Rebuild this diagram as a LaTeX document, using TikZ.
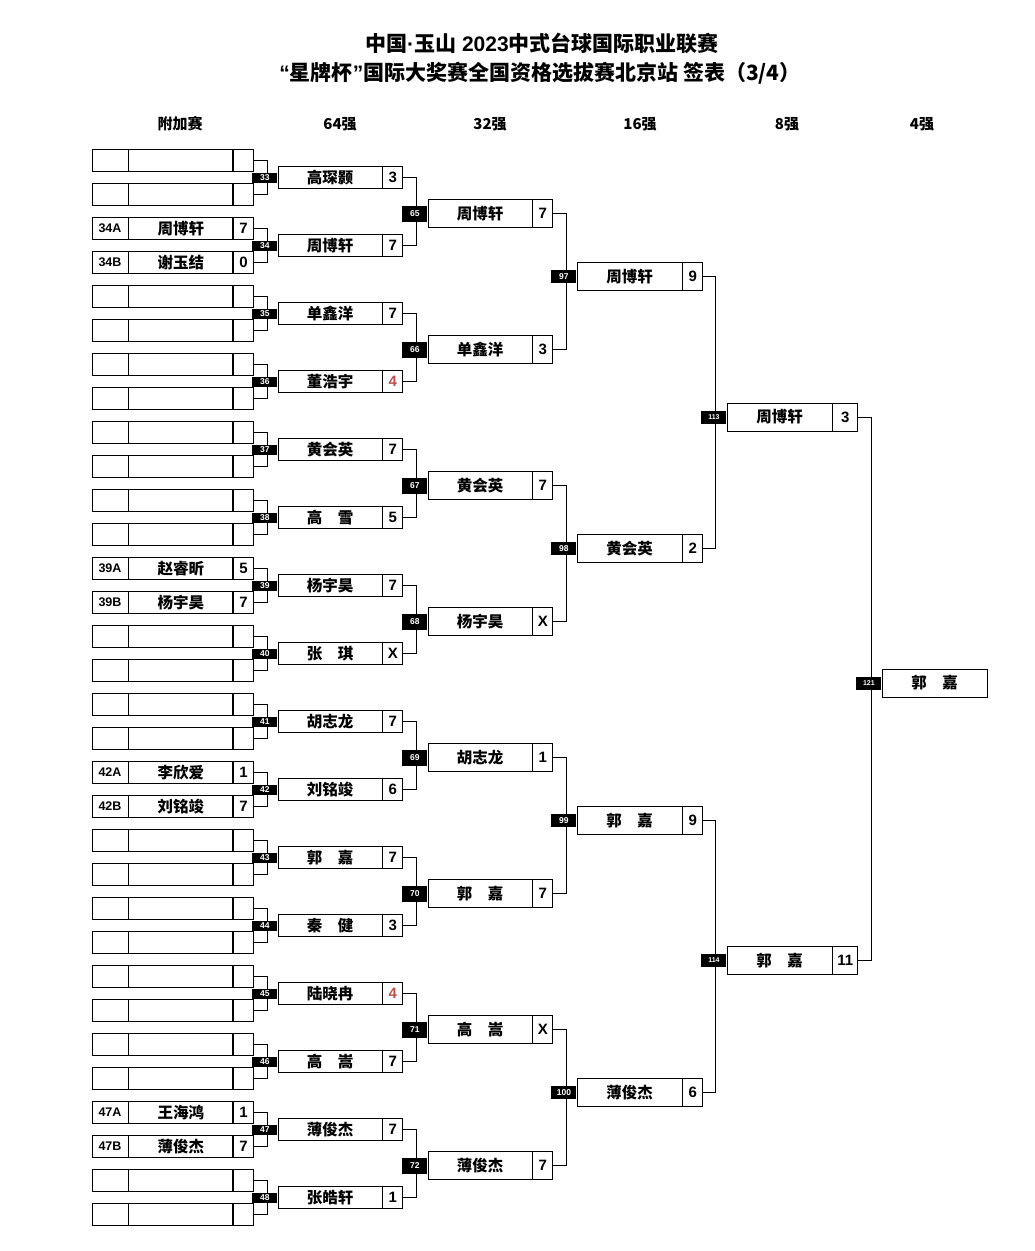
\documentclass[tikz,border=0pt]{standalone}
\usepackage{fontspec}
\setmainfont{Liberation Sans}
\newfontfamily\cjk{Noto Sans CJK SC}
\usepackage{tikz}
\usetikzlibrary{positioning}
\definecolor{lost}{HTML}{C0504D}
\tikzset{
    cell/.style={draw=black, line width=0.8pt, fill=white, inner sep=0pt,
                 minimum height=22pt, font=\bfseries\fontsize{15}{15}\selectfont},
    nm/.style={cell, minimum width=104pt, font=\cjk\bfseries\fontsize{15.5}{16}\selectfont},
    sc/.style={cell, minimum width=20pt},
    cd/.style={cell, minimum width=36pt, font=\bfseries\fontsize{12.5}{13}\selectfont},
    tag/.style={fill=black, text=white, inner sep=0pt, minimum width=25pt,
                minimum height=13pt, font=\bfseries\fontsize{8.5}{9}\selectfont},
    link/.style={line width=0.8pt},
    hdr/.style={font=\cjk\bfseries\fontsize{15}{15}\selectfont},
    ttl/.style={font=\bfseries\fontsize{21}{21}\selectfont},
}

\begin{document}
\begin{tikzpicture}[x=1pt, y=-1pt]
    \useasboundingbox (0,0) rectangle (1035,1251);
    % title and round headers
    \node[ttl] (title1) at (542,43) {{\cjk 中国}·{\cjk 玉山} 2023{\cjk 中式台球国际职业联赛}};
    \node[ttl] (title2) at (540,73) {“{\cjk 星牌杯}”{\cjk 国际大奖赛全国资格选拔赛北京站\ 签表（3/4）}};
    \foreach \x/\t in {180/附加赛, 340/64强, 490/32强, 640/16强, 787/8强, 922/4强}
        \node[hdr] (h\x) at (\x,124) {\t};

    % qualifying rows
    \foreach \k/\c/\n/\s [evaluate=\k as \yy using 160.5+34*(\k-1)] in
        {1///, 2///, 3/34A/周博轩/7, 4/34B/谢玉结/0, 5///, 6///, 7///, 8///,
         9///, 10///, 11///, 12///, 13/39A/赵睿昕/5, 14/39B/杨宇昊/7, 15///, 16///,
         17///, 18///, 19/42A/李欣爱/1, 20/42B/刘铭竣/7, 21///, 22///, 23///, 24///,
         25///, 26///, 27///, 28///, 29/47A/王海鸿/1, 30/47B/薄俊杰/7, 31///, 32///}
    {
        \node[cd] (pc\k) at (110,\yy) {\c};
        \node[nm, right=0pt of pc\k] (pn\k) {\n};
        \node[sc, right=0pt of pn\k] (ps\k) {\s};
    }

    % round of 64
    \foreach \j/\n/\s [evaluate=\j as \yy using 177.5+68*(\j-1)] in
        {1/高琛颢/3, 2/周博轩/7, 3/单鑫洋/7, 4/董浩宇/{\color{lost}4},
         5/黄会英/7, 6/高\quad 雪/5, 7/杨宇昊/7, 8/张\quad 琪/X,
         9/胡志龙/7, 10/刘铭竣/6, 11/郭\quad 嘉/7, 12/秦\quad 健/3,
         13/陆晓冉/{\color{lost}4}, 14/高\quad 嵩/7, 15/薄俊杰/7, 16/张皓轩/1}
    {
        \node[nm] (an\j) at (330,\yy) {\n};
        \node[sc, right=0pt of an\j] (as\j) {\s};
    }

    % round of 32
    \foreach \j/\n/\s [evaluate=\j as \yy using 213.5+136*(\j-1)] in
        {1/周博轩/7, 2/单鑫洋/3, 3/黄会英/7, 4/杨宇昊/X,
         5/胡志龙/1, 6/郭\quad 嘉/7, 7/高\quad 嵩/X, 8/薄俊杰/7}
    {
        \node[nm, minimum height=28pt] (bn\j) at (480,\yy) {\n};
        \node[sc, minimum height=28pt, right=0pt of bn\j] (bs\j) {\s};
    }

    % round of 16
    \foreach \j/\n/\s [evaluate=\j as \yy using 276.5+272*(\j-1)] in
        {1/周博轩/9, 2/黄会英/2, 3/郭\quad 嘉/9, 4/薄俊杰/6}
    {
        \node[nm, minimum width=105pt, minimum height=28pt] (cn\j) at (629.5,\yy) {\n};
        \node[sc, minimum height=28pt, right=0pt of cn\j] (cs\j) {\s};
    }

    % quarter finals and last four
    \node[nm, minimum width=105pt, minimum height=28pt] (dn1) at (779.5,417) {周博轩};
    \node[sc, minimum width=25pt, minimum height=28pt, right=0pt of dn1] (ds1) {3};
    \node[nm, minimum width=105pt, minimum height=28pt] (dn2) at (779.5,960.5) {郭\quad 嘉};
    \node[sc, minimum width=25pt, minimum height=28pt, right=0pt of dn2] (ds2) {11};
    \node[nm, minimum width=105pt, minimum height=28pt] (fn) at (934.5,683) {郭\quad 嘉};

    % bracket lines
    \foreach \j [evaluate=\j as \a using int(2*\j-1), evaluate=\j as \b using int(2*\j)] in {1,...,16}
        \draw[link] (ps\a.east) -- ++(13,0) |- (ps\b.east);
    \foreach \j [evaluate=\j as \a using int(2*\j-1), evaluate=\j as \b using int(2*\j)] in {1,...,8}
        \draw[link] (as\a.east) -- ++(13,0) |- (as\b.east);
    \foreach \j [evaluate=\j as \a using int(2*\j-1), evaluate=\j as \b using int(2*\j)] in {1,...,4}
        \draw[link] (bs\a.east) -- ++(13,0) |- (bs\b.east);
    \draw[link] (cs1.east) -- ++(12,0) |- (cs2.east);
    \draw[link] (cs3.east) -- ++(12,0) |- (cs4.east);
    \draw[link] (ds1.east) -- ++(13,0) |- (ds2.east);

    % match numbers
    \foreach \j [evaluate=\j as \m using int(\j+32)] in {1,...,16}
        \node[tag, minimum height=10pt, left=0pt of an\j] (at\j) {\m};
    \foreach \j [evaluate=\j as \m using int(\j+64)] in {1,...,8}
        \node[tag, minimum height=16pt, left=0pt of bn\j] (bt\j) {\m};
    \foreach \j [evaluate=\j as \m using int(\j+96)] in {1,...,4}
        \node[tag, left=0pt of cn\j] (ct\j) {\m};
    \node[tag, font=\bfseries\fontsize{7}{7}\selectfont, left=0pt of dn1] (dt1) {113};
    \node[tag, font=\bfseries\fontsize{7}{7}\selectfont, left=0pt of dn2] (dt2) {114};
    \node[tag, font=\bfseries\fontsize{7}{7}\selectfont, left=0pt of fn] (ft) {121};
\end{tikzpicture}
\end{document}
